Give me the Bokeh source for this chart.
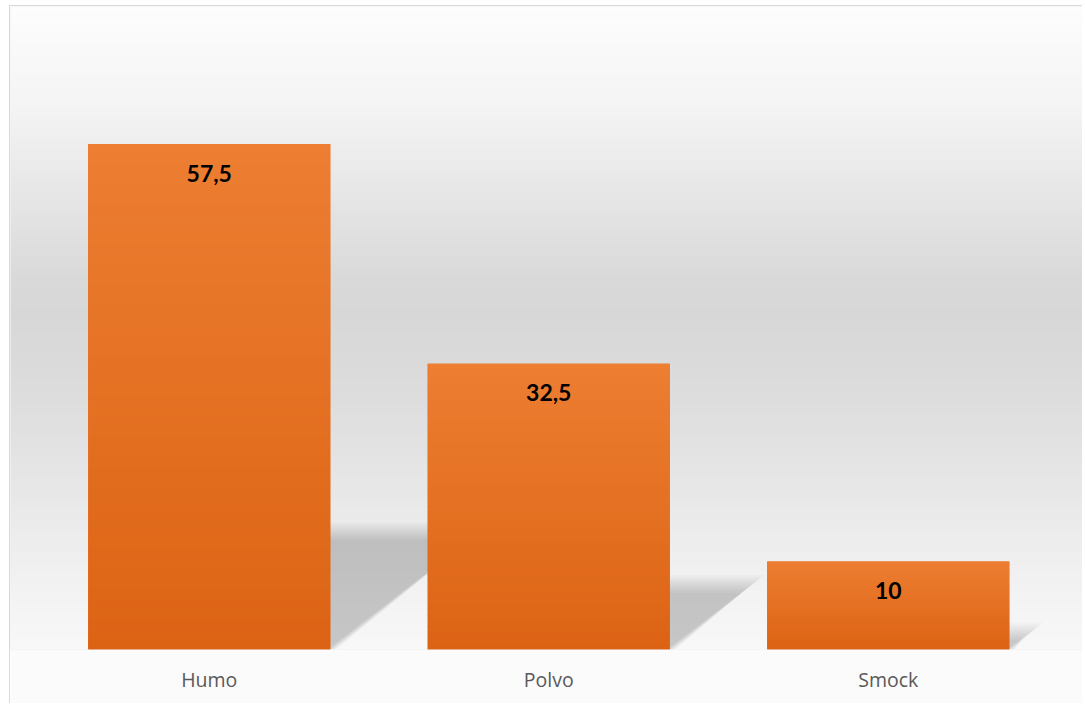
import numpy as np
from bokeh.plotting import figure
from bokeh.models import Range1d, FixedTicker
from bokeh.core.properties import value
from bokeh.embed import file_html
from bokeh.resources import INLINE

# ---- data ----
categories = ["Humo", "Polvo", "Smock"]
values = [57.5, 32.5, 10.0]
value_labels = ["57,5", "32,5", "10"]

# ---- layout / style constants ----
W, H = 1073, 698
PX_PER_UNIT = 8.79          # vertical pixels per value unit
BASE = 643                  # baseline in figure pixels
CAT_PX = 339.5              # pixels per category
LEFT0 = 29                  # px from figure left to first category boundary
BAR_W = 0.713

y_end = BASE / PX_PER_UNIT
x_start = -LEFT0 / CAT_PX
x_end = (W - LEFT0) / CAT_PX

p = figure(width=W, height=H, output_backend="svg", toolbar_location=None,
           x_range=Range1d(x_start, x_end), y_range=Range1d(0, y_end),
           min_border_left=0, min_border_right=0, min_border_top=0,
           min_border_bottom=H - BASE)
p.styles = {"border-top": "1px solid #d9d9d9", "border-left": "1px solid #d9d9d9",
            "margin-left": "9px", "margin-top": "5px"}
p.outline_line_color = None
p.border_fill_color = "#fbfbfb"
p.background_fill_color = "#e6e6e6"
p.grid.visible = False
p.yaxis.visible = False


def gray(g):
    g = int(round(g))
    return "#%02x%02x%02x" % (g, g, g)


# ---- background vertical gradient (style only) ----
stop_px = [0, 91, 191, 271, 311, 391, 491, 561, 643]
stop_gray = [253, 245, 230, 217, 215, 221, 232, 240, 248]
N = 100
edges = np.linspace(0, BASE, N + 1)
bg_bottom, bg_top, bg_col = [], [], []
for i in range(N):
    y0p, y1p = edges[i], edges[i + 1]
    bg_top.append((BASE - y0p) / PX_PER_UNIT + 0.08)
    bg_bottom.append((BASE - y1p) / PX_PER_UNIT - 0.08)
    bg_col.append(gray(np.interp((y0p + y1p) / 2, stop_px, stop_gray)))
p.quad(left=x_start, right=x_end, bottom=bg_bottom, top=bg_top,
       fill_color=bg_col, line_color=None)

centers = [i + 0.5 for i in range(len(categories))]
hw = BAR_W / 2

# ---- soft perspective shadows ----
for k in range(10):
    d = (k - 3) * 2.0
    xs, ys = [], []
    for c, v in zip(centers, values):
        h = 0.24 * v
        s = 0.0079 * v
        dx = d / CAT_PX
        dy = d / PX_PER_UNIT
        top = max(h - dy, 0.2)
        xs.append([c - hw, c + hw + dx * 0.5, c + hw + s - dx * 1.3, c - hw + s])
        ys.append([0, 0, top, top])
    p.patches(xs, ys, fill_color="black", fill_alpha=0.02, line_color=None)

# ---- bars ----
p.vbar(x=centers, top=values, width=BAR_W, bottom=0,
       fill_color="#dc6415", line_color=None)

# vertical gradient on bars (style only), opaque strips
top_rgb = np.array([237, 126, 50])
bot_rgb = np.array([220, 99, 20])
NS = 50
gl, gr, gb, gt, gc = [], [], [], [], []
for c, v in zip(centers, values):
    for i in range(NS):
        f = (i + 0.5) / NS
        rgb = bot_rgb + (top_rgb - bot_rgb) * f
        gl.append(c - hw)
        gr.append(c + hw)
        gb.append(v * i / NS)
        gt.append(min(v * (i + 1) / NS + 0.06, v))
        gc.append("#%02x%02x%02x" % tuple(int(round(t)) for t in rgb))
p.quad(left=gl, right=gr, bottom=gb, top=gt, fill_color=gc, line_color=None)

# ---- value labels ----
p.text(x=centers, y=values, text=value_labels, text_align="center",
       text_baseline="middle", y_offset=29, text_color="black",
       text_font=value("Lato"), text_font_style="bold", text_font_size="23px")

# ---- category axis ----
ax = p.xaxis[0]
ax.ticker = FixedTicker(ticks=centers)
ax.major_label_overrides = {c: n for c, n in zip(centers, categories)}
ax.axis_line_color = None
ax.major_tick_line_color = None
ax.minor_tick_line_color = None
ax.major_label_text_font = "Open Sans"
ax.major_label_text_font_size = "19.5px"
ax.major_label_text_color = "#595959"
ax.major_label_standoff = 10

open("out.html", "w").write(file_html(p, INLINE))
